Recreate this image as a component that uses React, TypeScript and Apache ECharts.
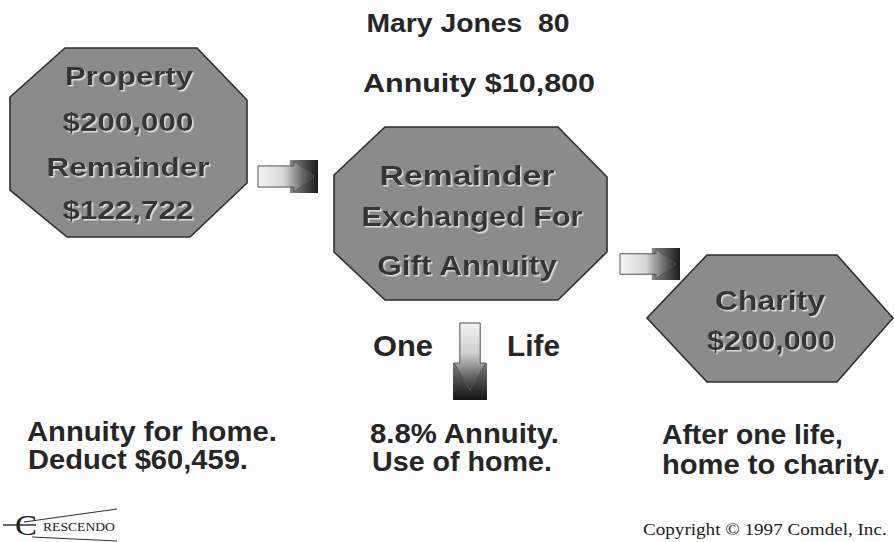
import React, { useEffect, useRef } from "react";
import * as echarts from "echarts";

// ---- content ----
const titleLines = ["Mary Jones  80", "Annuity $10,800"];
const propertyLines = ["Property", "$200,000", "Remainder", "$122,722"];
const exchangeLines = ["Remainder", "Exchanged For", "Gift Annuity"];
const charityLines = ["Charity", "$200,000"];
const lifeLabels = ["One", "Life"];
const leftNotes = ["Annuity for home.", "Deduct $60,459."];
const middleNotes = ["8.8% Annuity.", "Use of home."];
const rightNotes = ["After one life,", "home to charity."];
const logoInitial = "C";
const logoText = "RESCENDO";
const copyrightText = "Copyright \u00A9 1997 Comdel, Inc.";

const SANS = '"Liberation Sans", Arial, sans-serif';
const SERIF = '"Liberation Serif", "Times New Roman", serif';

let measureCtx: CanvasRenderingContext2D | null = null;
function measure(text: string, font: string): number {
  if (!measureCtx) measureCtx = document.createElement("canvas").getContext("2d");
  if (!measureCtx) return 1;
  measureCtx.font = font;
  return measureCtx.measureText(text).width || 1;
}

function label(
  text: string,
  x: number,
  y: number,
  size: number,
  width: number,
  align: string,
  fill: string,
  opts: any = {}
) {
  const weight = opts.weight || "bold";
  const family = opts.family || SANS;
  const font = `${weight} ${size}px ${family}`;
  const sx = width / measure(text, font);
  const style: any = {
    text,
    x: 0,
    y: 0,
    fill,
    fontSize: size,
    fontWeight: weight,
    fontFamily: family,
    textAlign: align,
    textVerticalAlign: "middle",
    align,
    verticalAlign: "middle",
  };
  if (opts.shadow) {
    style.textShadowColor = "rgba(235,235,235,0.85)";
    style.textShadowOffsetX = 1.5;
    style.textShadowOffsetY = 1.5;
    style.textShadowBlur = 1;
  }
  return { type: "text", x, y, scaleX: sx, silent: true, style };
}

function shape(points: number[][]) {
  return {
    type: "polygon",
    shape: { points },
    style: { fill: "#8b8b8b", stroke: "#2e2e2e", lineWidth: 1.6 },
  };
}

function rightArrow(x: number, y: number, w: number, h: number) {
  const headX = x + w * 0.6;
  const sq = x + w * 0.53;
  const inset = h * 0.18;
  return [
    {
      type: "rect",
      shape: { x: sq, y, width: x + w - sq, height: h },
      style: {
        fill: new echarts.graphic.LinearGradient(0, 0, 1, 0, [
          { offset: 0, color: "#8a8a8a" },
          { offset: 1, color: "#1a1a1a" },
        ]),
      },
    },
    {
      type: "polygon",
      shape: {
        points: [
          [x, y + inset],
          [headX, y + inset],
          [headX, y + 1],
          [x + w - 4, y + h / 2],
          [headX, y + h - 1],
          [headX, y + h - inset],
          [x, y + h - inset],
        ],
      },
      style: {
        fill: new echarts.graphic.LinearGradient(0, 0, 1, 0, [
          { offset: 0, color: "#f4f4f4" },
          { offset: 0.45, color: "#d8d8d8" },
          { offset: 1, color: "#2a2a2a" },
        ]),
        stroke: "#555",
        lineWidth: 1,
      },
    },
  ];
}

function downArrow(x: number, y: number, w: number, h: number) {
  const headY = y + h * 0.52;
  const sq = y + h * 0.52;
  const inset = w * 0.2;
  return [
    {
      type: "rect",
      shape: { x, y: sq, width: w, height: y + h - sq },
      style: {
        fill: new echarts.graphic.LinearGradient(0, 0, 0, 1, [
          { offset: 0, color: "#7a7a7a" },
          { offset: 1, color: "#151515" },
        ]),
      },
    },
    {
      type: "polygon",
      shape: {
        points: [
          [x + inset, y],
          [x + w - inset, y],
          [x + w - inset, headY],
          [x + w - 1, headY],
          [x + w / 2, y + h - 10],
          [x + 1, headY],
          [x + inset, headY],
        ],
      },
      style: {
        fill: new echarts.graphic.LinearGradient(0, 0, 0, 1, [
          { offset: 0, color: "#f2f2f2" },
          { offset: 0.45, color: "#cfcfcf" },
          { offset: 1, color: "#2a2a2a" },
        ]),
        stroke: "#555",
        lineWidth: 1,
      },
    },
  ];
}

export default function App() {
  const ref = useRef<HTMLDivElement>(null);

  useEffect(() => {
    if (!ref.current) return;
    const chart = echarts.init(ref.current, undefined, { renderer: "svg" });
    const txt = "#262626";
    const inner = "#363636";

    const elements: any[] = [
      { type: "rect", shape: { x: 0, y: 0, width: 894, height: 542 }, style: { fill: "#fdfdfd" } },
      // shapes
      shape([[65, 48], [197, 48], [247, 100], [247, 183], [190, 237], [67, 237], [10, 190], [10, 97]]),
      shape([[385, 127], [558, 127], [607, 177], [607, 252], [558, 300], [385, 300], [334, 252], [334, 175]]),
      shape([[707, 255], [837, 255], [893, 318], [837, 382], [707, 382], [647, 318]]),
      ...rightArrow(258, 160, 60, 33),
      ...rightArrow(620, 248, 60, 32),
      ...downArrow(453, 323, 34, 77),
      // titles
      label(titleLines[0], 468, 23, 26, 203, "center", txt),
      label(titleLines[1], 479, 83, 26, 232, "center", txt),
      // property octagon
      label(propertyLines[0], 129, 76, 26, 128, "center", inner, { shadow: true }),
      label(propertyLines[1], 128, 122, 26, 131, "center", inner, { shadow: true }),
      label(propertyLines[2], 128, 167, 26, 163, "center", inner, { shadow: true }),
      label(propertyLines[3], 128, 210, 26, 131, "center", inner, { shadow: true }),
      // exchange octagon
      label(exchangeLines[0], 467, 176, 28, 175, "center", inner, { shadow: true }),
      label(exchangeLines[1], 472, 216, 28, 221, "center", inner, { shadow: true }),
      label(exchangeLines[2], 467, 265, 28, 181, "center", inner, { shadow: true }),
      // charity hexagon
      label(charityLines[0], 770, 300, 27, 110, "center", inner, { shadow: true }),
      label(charityLines[1], 771, 341, 27, 128, "center", inner, { shadow: true }),
      // one / life
      label(lifeLabels[0], 373, 345, 30, 60, "left", txt),
      label(lifeLabels[1], 507, 345, 30, 53, "left", txt),
      // notes
      label(leftNotes[0], 27, 432, 27, 250, "left", txt),
      label(leftNotes[1], 28, 460, 27, 220, "left", txt),
      label(middleNotes[0], 370, 433, 27, 190, "left", txt),
      label(middleNotes[1], 372, 462, 27, 180, "left", txt),
      label(rightNotes[0], 662, 435, 27, 181, "left", txt),
      label(rightNotes[1], 662, 465, 27, 223, "left", txt),
      // logo
      { type: "line", shape: { x1: 3, y1: 525, x2: 36, y2: 525 }, style: { stroke: "#333", lineWidth: 1.5 } },
      { type: "line", shape: { x1: 24, y1: 522, x2: 117, y2: 509 }, style: { stroke: "#333", lineWidth: 1.2 } },
      { type: "line", shape: { x1: 32, y1: 537, x2: 117, y2: 541 }, style: { stroke: "#333", lineWidth: 1.2 } },
      label(logoInitial, 15, 525, 30, 22, "left", "#222", { weight: "normal", family: SERIF }),
      label(logoText, 43, 527, 13, 72, "left", "#222", { weight: "normal", family: SERIF }),
      // copyright
      label(copyrightText, 643, 530, 16, 244, "left", "#222", { weight: "normal", family: SERIF }),
    ];

    chart.setOption({
      animation: false,
      graphic: { elements },
    });
    return () => chart.dispose();
  }, []);

  return (
    <div
      ref={ref}
      style={{ position: "fixed", left: 0, top: 0, width: 894, height: 542, background: "#fff" }}
    />
  );
}
